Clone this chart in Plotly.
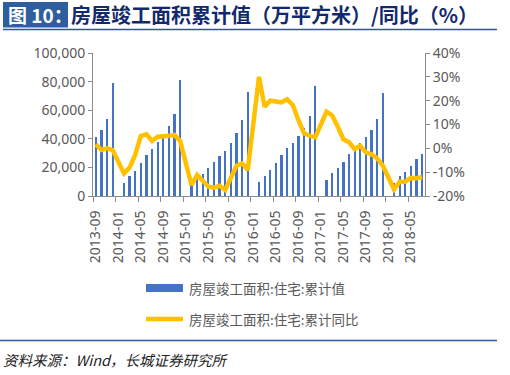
import pandas as pd
import plotly.graph_objects as go

# ---------------- data ----------------
months = [d.strftime("%Y-%m") for d in pd.date_range("2013-09-01", "2018-07-01", freq="MS")]

completed_cum = [
    41200, 46100, 53800, 79000,
    None, 9100, 14000, 17400, 23000, 28600, 32800, 37800, 41000, 49000, 57300, 81000,
    None, 7500, 12200, 15100, 19300, 23500, 27900, 31400, 37400, 44400, 53000, 73000,
    None, 9800, 13700, 18100, 23000, 28600, 33500, 37000, 41900, 47400, 55800, 76700,
    None, 11200, 16000, 19500, 24000, 29300, 31500, 37000, 41200, 46000, 53700, 71900,
    None, 9000, 14000, 16700, 21000, 25800, 29300,
]

yoy_pct = [
    1.7, -0.7, 0.0, -0.7,
    None, -10.5, -8.1, -2.8, 5.2, 5.9, 3.1, 4.9, 5.3, 5.3, 5.6, 3.0,
    None, -15.4, -11.2, -13.6, -16.1, -16.5, -15.7, -17.5, -12.3, -7.3, -6.3, -9.1,
    None, 30.0, 17.5, 20.0, 19.6, 19.3, 20.6, 18.2, 11.9, 6.3, 5.3, 4.6,
    None, 15.4, 13.8, 9.1, 3.8, 2.5, -0.3, 1.0, -1.7, -2.5, -4.2, -7.3,
    None, -17.2, -14.0, -14.0, -12.4, -12.5, -12.0,
]

left_ticks = [0, 20000, 40000, 60000, 80000, 100000]
right_ticks = [-20, -10, 0, 10, 20, 30, 40]
right_tick_text = ["-20%", "-10%", "0%", "10%", "20%", "30%", "40%"]

series_bar_name = "房屋竣工面积:住宅:累计值"
series_line_name = "房屋竣工面积:住宅:累计同比"
title_tag = "图 10："
title_text = "房屋竣工面积累计值（万平方米）/同比（%）"
source_text = "资料来源：Wind，长城证券研究所"

# ---------------- layout geometry ----------------
W, H = 510, 375
L, R, T, B = 93, 425, 53, 196


def xp(px):
    return (px - L) / (R - L)


def yp(py):
    return (B - py) / (B - T)


x_idx = list(range(len(months)))
tick_idx = x_idx[::4]
tick_lbl = [months[i] for i in tick_idx]

GREY = "#595959"
AXIS = "#8c8c8c"
FONT = "Noto Sans, Noto Sans CJK SC, sans-serif"
CJK = "Noto Sans CJK SC, sans-serif"

fig = go.Figure()
fig.add_trace(go.Bar(
    x=x_idx, y=completed_cum, name=series_bar_name,
    marker=dict(color="#4472C4", line=dict(width=0)),
    width=0.4, yaxis="y", showlegend=False,
))
fig.add_trace(go.Scatter(
    x=x_idx, y=yoy_pct, name=series_line_name, mode="lines",
    line=dict(color="#FFC000", width=4.5), connectgaps=True,
    yaxis="y2", showlegend=False,
))

fig.update_layout(
    width=W, height=H,
    margin=dict(l=L, r=W - R, t=T, b=H - B, pad=0),
    paper_bgcolor="white", plot_bgcolor="white",
    showlegend=False,
    xaxis=dict(
        range=[-0.5, len(months) - 0.5],
        tickmode="array", tickvals=tick_idx, ticktext=tick_lbl,
        tickangle=-90, ticks="outside", ticklen=8, tickcolor="rgba(0,0,0,0)",
        tickfont=dict(family=FONT, size=14, color=GREY),
        showline=True, linecolor=AXIS, linewidth=1,
        showgrid=False, zeroline=False,
        minor=dict(tick0=-0.5, dtick=4, ticks="outside", ticklen=5,
                   tickcolor=AXIS, showgrid=False),
    ),
    yaxis=dict(
        range=[0, 100000], tickmode="array", tickvals=left_ticks,
        tickformat=",", ticks="outside", ticklen=4, tickcolor=AXIS,
        tickfont=dict(family=FONT, size=14, color=GREY),
        showline=True, linecolor=AXIS, linewidth=1,
        showgrid=False, zeroline=False,
    ),
    yaxis2=dict(
        range=[-20, 40], overlaying="y", side="right",
        tickmode="array", tickvals=right_ticks, ticktext=right_tick_text,
        ticks="outside", ticklen=4, tickcolor=AXIS,
        tickfont=dict(family=FONT, size=14, color=GREY),
        showline=True, linecolor=AXIS, linewidth=1,
        showgrid=False, zeroline=False,
    ),
    bargap=0,
)

shapes = [
    # title tag box
    dict(type="rect", xref="paper", yref="paper", x0=xp(3), x1=xp(68), y0=yp(27.5), y1=yp(2),
         fillcolor="#2E5E9E", line=dict(width=0), layer="above"),
    # rule under title
    dict(type="line", xref="paper", yref="paper", x0=xp(3), x1=xp(497), y0=yp(29.5), y1=yp(29.5),
         line=dict(color="#2F5597", width=1.3)),
    # rule above source
    dict(type="line", xref="paper", yref="paper", x0=xp(0), x1=xp(497), y0=yp(340.5), y1=yp(340.5),
         line=dict(color="#2E5E9E", width=1.3)),
    # legend keys
    dict(type="rect", xref="paper", yref="paper", x0=xp(146), x1=xp(183), y0=yp(292), y1=yp(284),
         fillcolor="#4472C4", line=dict(width=0)),
    dict(type="line", xref="paper", yref="paper", x0=xp(146), x1=xp(183), y0=yp(319), y1=yp(319),
         line=dict(color="#FFC000", width=4.5)),
]
fig.update_layout(shapes=shapes)

annotations = [
    dict(text="<b>" + title_tag + "</b>", xref="paper", yref="paper", x=xp(6), y=yp(15),
         xanchor="left", yanchor="middle", showarrow=False,
         font=dict(family=CJK, size=19, color="white")),
    dict(text="<b>" + title_text + "</b>", xref="paper", yref="paper", x=xp(69), y=yp(15),
         xanchor="left", yanchor="middle", showarrow=False,
         font=dict(family=CJK, size=20, color="#12296B")),
    dict(text=series_bar_name, xref="paper", yref="paper", x=xp(187), y=yp(288),
         xanchor="left", yanchor="middle", showarrow=False,
         font=dict(family=CJK, size=13.5, color=GREY)),
    dict(text=series_line_name, xref="paper", yref="paper", x=xp(187), y=yp(319),
         xanchor="left", yanchor="middle", showarrow=False,
         font=dict(family=CJK, size=13.5, color=GREY)),
    dict(text=source_text, xref="paper", yref="paper", x=xp(1), y=yp(359),
         xanchor="left", yanchor="middle", showarrow=False,
         font=dict(family=CJK, size=14.5, color="#222222", style="italic")),
]
fig.update_layout(annotations=annotations)

fig.write_html(
    "out.html",
    config={"displayModeBar": False},
    post_script="document.body.style.margin='0';document.body.style.padding='0';",
)
